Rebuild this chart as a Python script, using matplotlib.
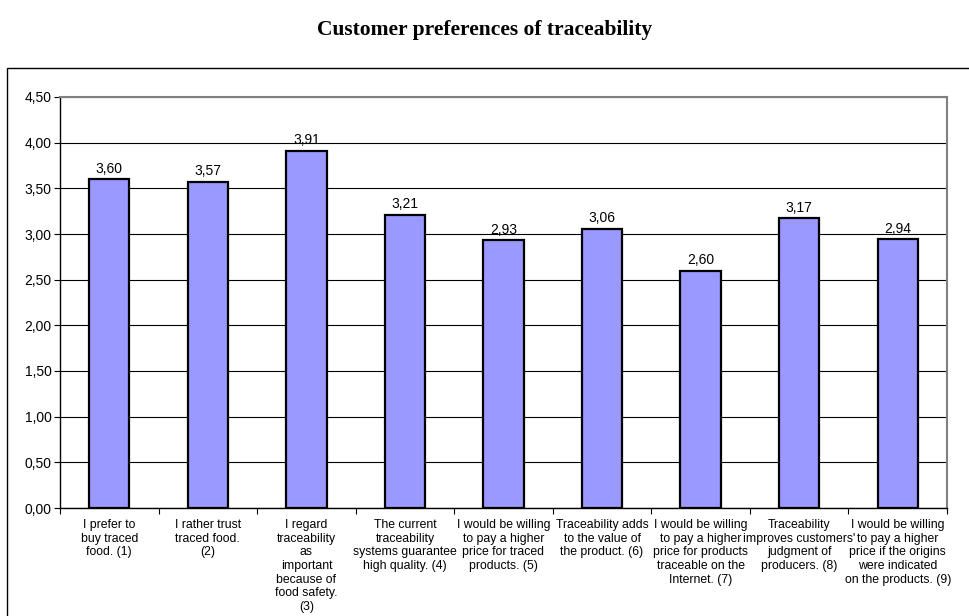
import numpy as np
import matplotlib.pyplot as plt
from matplotlib.patches import Rectangle

# Mean agreement scores per statement
labels = [
    "I prefer to\nbuy traced\nfood. (1)",
    "I rather trust\ntraced food.\n(2)",
    "I regard\ntraceability\nas\nimportant\nbecause of\nfood safety.\n(3)",
    "The current\ntraceability\nsystems guarantee\nhigh quality. (4)",
    "I would be willing\nto pay a higher\nprice for traced\nproducts. (5)",
    "Traceability adds\nto the value of\nthe product. (6)",
    "I would be willing\nto pay a higher\nprice for products\ntraceable on the\nInternet. (7)",
    "Traceability\nimproves customers'\njudgment of\nproducers. (8)",
    "I would be willing\nto pay a higher\nprice if the origins\nwere indicated\non the products. (9)",
]
scores = [3.60, 3.57, 3.91, 3.21, 2.93, 3.06, 2.60, 3.17, 2.94]
yticks = np.arange(0, 4.51, 0.5)

plt.rcParams['font.family'] = ['Liberation Sans', 'DejaVu Sans']

W, H = 969, 616
fig = plt.figure(figsize=(W / 100, H / 100), dpi=100)
ax = fig.add_axes([60 / W, 1 - 508 / H, (947 - 60) / W, (508 - 97) / H])

# outer chart frame
fig.patches.append(Rectangle((7 / W, -0.1), 1.0, 1 - 68 / H + 0.1,
                             transform=fig.transFigure, fill=False,
                             edgecolor='black', linewidth=1.0))

fig.text(0.5, 1 - 30 / H, "Customer preferences of traceability",
         ha='center', va='center', fontsize=15.5, fontweight='bold',
         family=['Liberation Serif', 'DejaVu Serif'])

x = np.arange(len(scores))
bars = ax.bar(x, scores, width=0.41, color='#9999ff', edgecolor='black',
              linewidth=1.6, zorder=3)

for xi, v in zip(x, scores):
    ax.text(xi, v + 0.04, f"{v:.2f}".replace('.', ','), ha='center',
            va='bottom', fontsize=10)

ax.set_xlim(-0.5, len(scores) - 0.5)
ax.set_ylim(0, 4.5)
ax.set_yticks(yticks)
ax.set_yticklabels([f"{t:.2f}".replace('.', ',') for t in yticks], fontsize=10)
ax.yaxis.grid(True, color='black', linewidth=0.8, zorder=0)
ax.set_axisbelow(True)

# ticks at category boundaries, labels centred under bars
ax.set_xticks(np.arange(len(scores) + 1) - 0.5)
ax.set_xticklabels([])
ax.set_xticks(x, minor=True)
ax.set_xticklabels(labels, minor=True, fontsize=8.8, linespacing=1.18)
ax.tick_params(axis='x', which='minor', length=0, pad=8)
ax.tick_params(axis='x', which='major', length=4, direction='out')
ax.tick_params(axis='y', length=4, direction='out', pad=2)

for side in ('top', 'right'):
    ax.spines[side].set_color('#808080')
    ax.spines[side].set_linewidth(1.5)
for side in ('left', 'bottom'):
    ax.spines[side].set_color('black')
    ax.spines[side].set_linewidth(1.0)

fig.savefig("out.png", dpi=100)
